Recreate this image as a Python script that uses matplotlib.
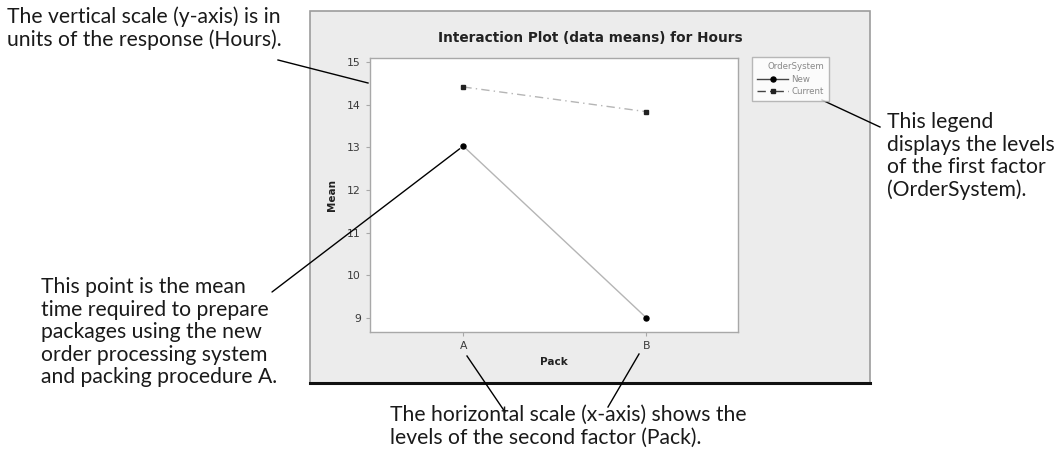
import matplotlib.pyplot as plt
from matplotlib.patches import Rectangle
from matplotlib.lines import Line2D

# ---- data: interaction means of Hours by Pack and OrderSystem ----
packs = ["A", "B"]
new_means = [13.03, 9.0]
current_means = [14.42, 13.84]
series_names = ["New", "Current"]
y_ticks = [9, 10, 11, 12, 13, 14, 15]

W, H = 1063, 462
DPI = 100


def fx(x):
    return x / W


def fy(y):
    return 1 - y / H


fig = plt.figure(figsize=(W / DPI, H / DPI), dpi=DPI)
fig.patch.set_facecolor("white")

# gray graph window behind the plot
fig.add_artist(Rectangle((fx(310), fy(383)), fx(870) - fx(310), fy(11) - fy(383),
                         transform=fig.transFigure, facecolor="#ececec",
                         edgecolor="#9c9c9c", linewidth=1.2, zorder=0))
fig.add_artist(Line2D([fx(310), fx(870)], [fy(383), fy(383)],
                      transform=fig.transFigure, color="#111111", linewidth=2.2))

ax = fig.add_axes([fx(370), fy(332), fx(738) - fx(370), fy(58) - fy(332)])
ax.set_facecolor("white")
xs = list(range(len(packs)))
ax.plot(xs, new_means, color="#b5b5b5", linewidth=1.0, marker="o",
        markersize=3.6, markerfacecolor="black", markeredgecolor="black",
        label=series_names[0])
ax.plot(xs, current_means, color="#b5b5b5", linewidth=1.0, linestyle=(0, (6, 3, 1, 3)),
        marker="s", markersize=3.4, markerfacecolor="#222222",
        markeredgecolor="#222222", label=series_names[1])

ax.set_xlim(-0.51, 1.50)
ax.set_ylim(8.67, 15.1)
ax.set_xticks(xs)
ax.set_xticklabels(packs)
ax.set_yticks(y_ticks)
for s in ax.spines.values():
    s.set_color("#a8a8a8")
    s.set_linewidth(1.0)
ax.tick_params(colors="#a8a8a8", labelcolor="#3a3a3a", labelsize=7.8,
               length=3, width=0.8)

fig.text(fx(590), fy(38), "Interaction Plot (data means) for Hours", fontsize=9.8,
         fontweight="bold", color="#222222", ha="center", va="center")
ax.set_ylabel("Mean", fontsize=7.5, fontweight="bold", color="#222222", labelpad=7)
ax.set_xlabel("Pack", fontsize=7.5, fontweight="bold", color="#222222", labelpad=4)

leg = fig.legend(title="OrderSystem", loc="upper left",
                 bbox_to_anchor=(fx(752), fy(57)), fontsize=6.2,
                 title_fontsize=6.2, frameon=True, fancybox=False,
                 handlelength=3.6, borderpad=0.6, labelspacing=0.4,
                 handletextpad=0.4, borderaxespad=0)
leg._legend_box.align = "right"
leg.get_frame().set_edgecolor("#a8a8a8")
leg.get_frame().set_linewidth(1.0)
for t in leg.get_texts():
    t.set_color("#888888")
leg.get_title().set_color("#888888")
for h in leg.legend_handles:
    h.set_color("#444444")

# ---- callout text around the graph ----
note_font = dict(family="Lato", fontsize=15.2, color="#1a1a1a",
                 linespacing=1.16, transform=fig.transFigure)
fig.text(fx(7), fy(6), "The vertical scale (y-axis) is in\nunits of the response (Hours).",
         va="top", ha="left", **note_font)
fig.text(fx(41), fy(277), "This point is the mean\ntime required to prepare\n"
         "packages using the new\norder processing system\nand packing procedure A.",
         va="top", ha="left", **note_font)
fig.text(fx(390), fy(405), "The horizontal scale (x-axis) shows the\n"
         "levels of the second factor (Pack).", va="top", ha="left", **note_font)
fig.text(fx(887), fy(112), "This legend\ndisplays the levels\nof the first factor\n(OrderSystem).",
         va="top", ha="left", **note_font)

leader = dict(arrowstyle="-", color="black", linewidth=1.0, shrinkA=0, shrinkB=0)
fig.add_artist(Line2D([fx(278), fx(368)], [fy(60), fy(83)],
                      transform=fig.transFigure, color="black", linewidth=1.0))
ax.annotate("", xy=(xs[0] - 0.02, new_means[0] - 0.06),
            xytext=(fx(272), fy(292)), textcoords="figure fraction",
            arrowprops=leader)
fig.add_artist(Line2D([fx(467), fx(505)], [fy(356), fy(412)],
                      transform=fig.transFigure, color="black", linewidth=1.0))
fig.add_artist(Line2D([fx(639), fx(608)], [fy(354), fy(407)],
                      transform=fig.transFigure, color="black", linewidth=1.0))
fig.add_artist(Line2D([fx(822), fx(880)], [fy(100), fy(127)],
                      transform=fig.transFigure, color="black", linewidth=1.0))

fig.savefig("out.png", dpi=DPI)
